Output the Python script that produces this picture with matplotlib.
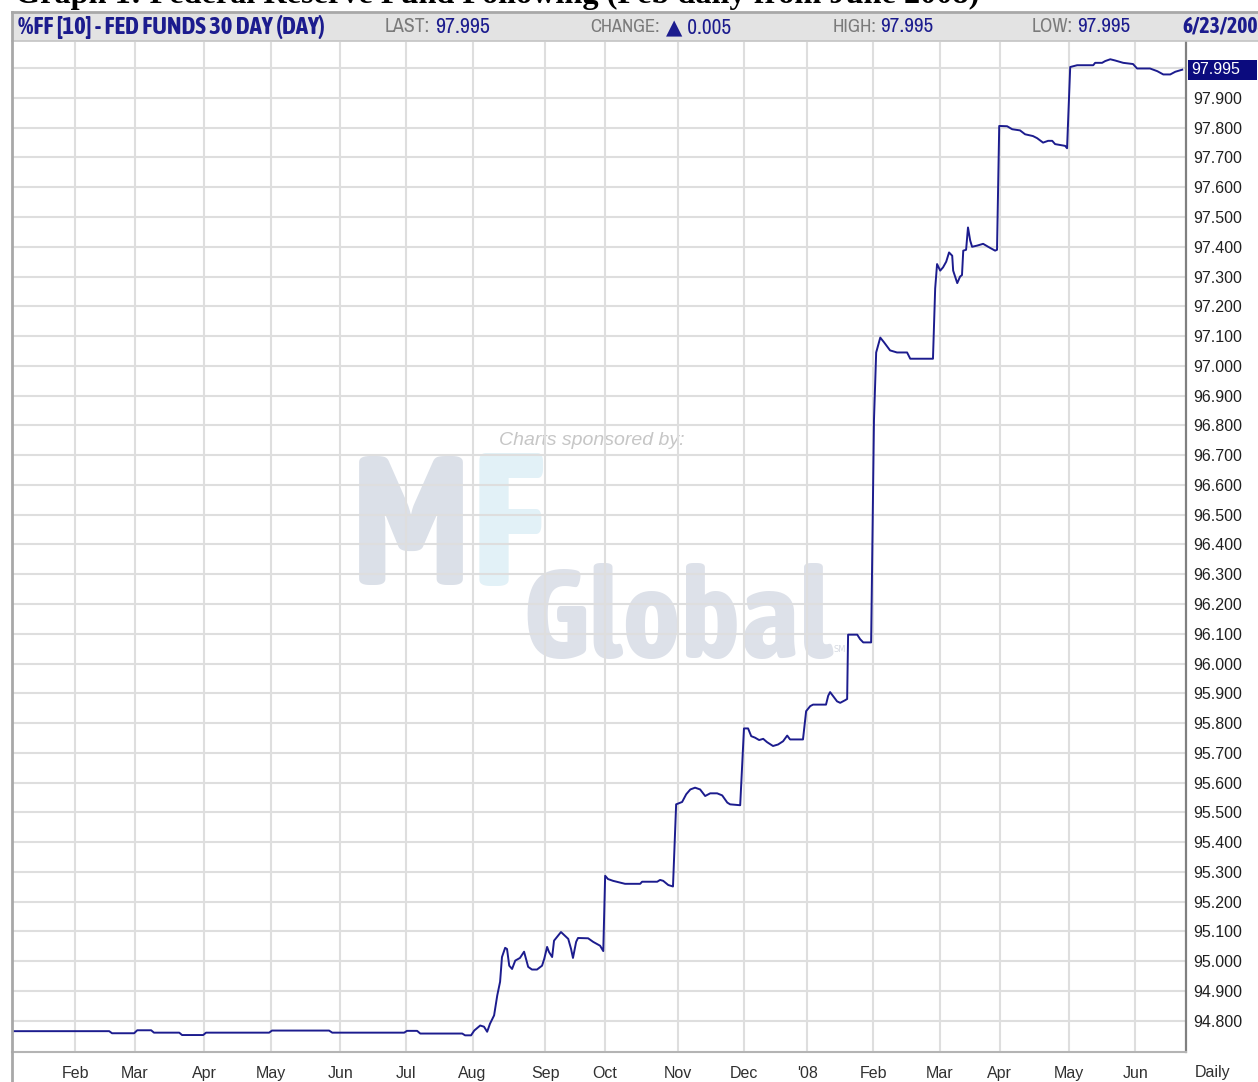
import matplotlib
matplotlib.use("Agg")
import matplotlib.pyplot as plt
from matplotlib import font_manager as fm
from matplotlib.patches import Rectangle
from matplotlib.lines import Line2D
from matplotlib.transforms import blended_transform_factory

W, H = 1258, 1082

session = [
    -20.0, 10.8, 11.7, 18.7, 19.7, 24.1, 25.0, 33.0, 33.9, 40.6,
    41.5, 61.5, 62.4, 80.5, 81.5, 104.3, 105.2, 108.4, 109.4, 122.7,
    123.6, 125.5, 126.5, 128.4, 129.6, 130.6, 131.5, 132.8, 133.8, 134.7,
    135.3, 136.3, 136.9, 137.6, 138.5, 139.5, 141.0, 142.3, 142.9, 143.6,
    144.8, 146.4, 148.0, 148.7, 149.6, 150.2, 151.2, 151.8, 153.1, 154.0,
    155.3, 156.3, 157.2, 157.8, 158.8, 159.4, 162.6, 164.2, 166.4, 167.4,
    168.0, 168.9, 170.5, 174.3, 179.1, 179.7, 184.5, 185.4, 186.4, 188.0,
    189.5, 190.5, 192.4, 193.7, 195.0, 196.5, 198.1, 199.7, 201.3, 203.5,
    205.1, 206.7, 207.6, 210.8, 212.0, 213.3, 214.3, 215.5, 216.8, 218.1,
    219.3, 221.2, 222.8, 224.4, 225.7, 226.6, 230.7, 231.7, 233.0, 233.9,
    238.0, 238.7, 239.3, 240.3, 241.5, 242.5, 244.1, 244.7, 245.0, 247.9,
    248.8, 249.8, 252.3, 253.2, 253.9, 255.2, 256.4, 258.3, 260.5, 263.7,
    264.7, 271.9, 272.6, 273.2, 274.2, 275.1, 276.1, 277.0, 278.0, 278.3,
    279.6, 280.5, 281.1, 281.5, 282.4, 283.0, 283.7, 284.3, 285.9, 287.8,
    289.4, 291.6, 292.2, 292.9, 295.4, 297.0, 299.5, 301.1, 303.6, 304.9,
    306.8, 308.4, 309.7, 310.6, 313.8, 314.4, 315.4, 317.6, 322.7, 323.3,
    325.5, 326.5, 328.1, 329.6, 332.2, 335.3, 336.6, 340.7, 343.0, 344.9,
    347.1, 348.7, 350.9,
]
price = [
    94.765, 94.765, 94.758, 94.758, 94.768, 94.768, 94.760, 94.760, 94.752, 94.752,
    94.760, 94.760, 94.767, 94.767, 94.760, 94.760, 94.766, 94.766, 94.757, 94.757,
    94.751, 94.751, 94.767, 94.784, 94.780, 94.763, 94.790, 94.818, 94.885, 94.931,
    95.014, 95.045, 95.041, 94.985, 94.974, 95.002, 95.011, 95.032, 95.008, 94.981,
    94.972, 94.972, 94.985, 95.008, 95.048, 95.031, 95.014, 95.069, 95.086, 95.098,
    95.085, 95.075, 95.041, 95.011, 95.065, 95.078, 95.077, 95.065, 95.052, 95.034,
    95.287, 95.276, 95.270, 95.260, 95.260, 95.267, 95.267, 95.273, 95.270, 95.256,
    95.251, 95.527, 95.535, 95.561, 95.577, 95.583, 95.577, 95.555, 95.564, 95.564,
    95.557, 95.533, 95.527, 95.524, 95.782, 95.782, 95.756, 95.751, 95.743, 95.747,
    95.736, 95.723, 95.728, 95.739, 95.758, 95.745, 95.745, 95.840, 95.857, 95.862,
    95.862, 95.892, 95.904, 95.890, 95.873, 95.868, 95.877, 95.881, 96.097, 96.097,
    96.082, 96.071, 96.071, 96.817, 97.045, 97.095, 97.079, 97.052, 97.045, 97.045,
    97.024, 97.024, 97.260, 97.342, 97.320, 97.331, 97.350, 97.381, 97.370, 97.320,
    97.278, 97.300, 97.305, 97.387, 97.390, 97.465, 97.421, 97.400, 97.404, 97.410,
    97.400, 97.387, 97.390, 97.806, 97.805, 97.795, 97.791, 97.778, 97.772, 97.765,
    97.750, 97.756, 97.756, 97.745, 97.739, 97.731, 98.004, 98.010, 98.010, 98.018,
    98.018, 98.024, 98.030, 98.026, 98.018, 98.014, 97.999, 97.999, 97.990, 97.979,
    97.979, 97.988, 97.995,
]

month_pos = [0, 19, 41, 62, 84, 105, 126, 149, 168, 191, 212, 232, 253, 274, 293, 315, 336]
month_lbl = ["Feb", "Mar", "Apr", "May", "Jun", "Jul", "Aug", "Sep", "Oct",
             "Nov", "Dec", "'08", "Feb", "Mar", "Apr", "May", "Jun"]
price_ticks = [94.8, 94.9, 95.0, 95.1, 95.2, 95.3, 95.4, 95.5, 95.6, 95.7, 95.8,
               95.9, 96.0, 96.1, 96.2, 96.3, 96.4, 96.5, 96.6, 96.7, 96.8, 96.9,
               97.0, 97.1, 97.2, 97.3, 97.4, 97.5, 97.6, 97.7, 97.8, 97.9, 98.0]
last_price = 97.995

NAVY = "#1c1c8e"
SANS = ["Liberation Sans", "DejaVu Sans"]


def _weight(f):
    w = f.weight
    return w if isinstance(w, int) else fm.weight_dict.get(str(w), 400)


# look for upright narrow sans faces: one with a regular cut, one with a bold cut
_upright = {}
for f in fm.fontManager.ttflist:
    if f.style != "normal" or "Mono" in f.name or "Serif" in f.name:
        continue
    named = "Narrow" in f.name or "Condensed" in f.name
    cond = "condensed" in str(f.stretch)
    if not (named or cond):
        continue
    key = (f.name, "normal" if named else f.stretch)
    _upright.setdefault(key, set()).add(_weight(f))

_reg = sorted(k for k, ws in _upright.items() if any(300 <= w <= 500 for w in ws))
_bold = sorted(k for k, ws in _upright.items() if any(w >= 600 for w in ws))
NARROW = {"family": SANS, "stretch": "normal"}
if _reg:
    NARROW = {"family": [_reg[0][0], "DejaVu Sans"], "stretch": _reg[0][1]}
NARROW_B = dict(NARROW)
if _bold:
    NARROW_B = {"family": [_bold[0][0], "DejaVu Sans"], "stretch": _bold[0][1]}
elif not _reg:
    NARROW_B = {"family": SANS, "stretch": "normal"}


def fx(px):
    return px / W


def fy(py):
    return 1 - py / H


fig = plt.figure(figsize=(W / 100, H / 100), dpi=100)
fig.patch.set_facecolor("white")
renderer = fig.canvas.get_renderer()


def fit(t, width_px):
    # scale a text so that it spans width_px on the canvas
    w = t.get_window_extent(renderer).width
    t.set_fontsize(t.get_fontsize() * width_px / w)
    return t


ax = fig.add_axes([fx(12), fy(1052), (1186 - 12) / W, (1052 - 42) / H])
ax.set_facecolor("white")
ax.set_axisbelow(True)

ax.plot(session, price, color=NAVY, lw=1.4, zorder=2)

ax.set_xlim(-20, 352.1)
ax.set_ylim(94.695, 98.088)

ax.set_xticks(month_pos)
ax.set_xticklabels(month_lbl, family=SANS, fontsize=11.5, color="#303030")
ax.tick_params(axis="x", length=0, pad=10)

ax.yaxis.tick_right()
ax.set_yticks(price_ticks)
ax.set_yticklabels(["%.3f" % v if v < 97.95 else "" for v in price_ticks],
                   family=SANS, fontsize=11.5, color="#202020")
ax.tick_params(axis="y", length=0, pad=5)

ax.grid(True, color="#dedede", lw=1.5)
ax.spines["top"].set_visible(False)
ax.spines["left"].set_visible(False)
ax.spines["right"].set_color("#808080")
ax.spines["right"].set_linewidth(1.6)
ax.spines["bottom"].set_color("#b4b4b4")
ax.spines["bottom"].set_linewidth(1.5)

# highlighted last value on the price scale
bt = blended_transform_factory(ax.transAxes, ax.transData)
ax.add_patch(Rectangle((1.0015, last_price - 0.034), 0.059, 0.068, transform=bt,
                       fc="#0b0b7e", ec="none", clip_on=False))
ax.text(1.0048, last_price, "97.995", transform=bt, color="white", va="center",
        ha="left", family=SANS, fontsize=11.5, clip_on=False)

# sponsor watermark (behind the grid)
ax.text(fx(592), fy(441), "Charts sponsored by:", transform=fig.transFigure,
        ha="center", va="center", style="italic", family=SANS, fontsize=14,
        color="#c6c6c6", zorder=0.1)
fit(ax.text(fx(350), fy(585), "M", transform=fig.transFigure, weight="bold",
            color="#dbe0e8", zorder=0.1, fontsize=100, **NARROW_B), 122)
fit(ax.text(fx(470), fy(585), "F", transform=fig.transFigure, weight="bold",
            color="#e2f1f7", zorder=0.1, fontsize=100, **NARROW_B), 76)
fit(ax.text(fx(522), fy(658), "Global", transform=fig.transFigure, weight="bold",
            color="#dde1e9", zorder=0.1, fontsize=100, **NARROW_B), 310)
ax.text(fx(833), fy(652), "SM", transform=fig.transFigure, fontsize=6,
        color="#d6dae2", zorder=0.1)

# header bar
fig.patches.append(Rectangle((fx(12), fy(41)), 1 - fx(12), 29 / H,
                             transform=fig.transFigure, fc="#e3e3e3", ec="none"))
fig.lines.append(Line2D([fx(12), 1], [fy(12), fy(12)], transform=fig.transFigure,
                        color="#a8a8a8", lw=2))
fig.lines.append(Line2D([fx(12), 1], [fy(41), fy(41)], transform=fig.transFigure,
                        color="#c4c4c4", lw=1.2))
fig.lines.append(Line2D([fx(12), fx(12)], [0, fy(12)], transform=fig.transFigure,
                        color="#a8a8a8", lw=2))

hy = fy(27)
fit(fig.text(fx(18), hy, "%FF [10] - FED FUNDS 30 DAY (DAY)", weight="bold",
             fontsize=14, color=NAVY, va="center", **NARROW_B), 308)
for lab, lx, lw_, val, vx, vw in [("LAST:", 385, 45, "97.995", 435, 55),
                                  ("CHANGE:", 590, 70, "\u25b2 0.005", 666, 65),
                                  ("HIGH:", 833, 44, "97.995", 880, 53),
                                  ("LOW:", 1032, 41, "97.995", 1077, 53)]:
    fit(fig.text(fx(lx), hy, lab, fontsize=11, color="#7a7a7a", va="center", **NARROW), lw_)
    fit(fig.text(fx(vx), hy, val, fontsize=11, color=NAVY, va="center", **NARROW), vw)
fit(fig.text(fx(1182), hy, "6/23/2008", weight="bold", fontsize=14, color=NAVY,
             va="center", **NARROW_B), 86)

fig.text(fx(1213), fy(1072), "Daily", family=SANS, fontsize=11.5, color="#303030",
         ha="center", va="center")

# caption of the source document, cut off by the crop
fit(fig.text(fx(15), fy(3), "Graph 1: Federal Reserve Fund Following (Feb daily from June 2008)",
             family=["Liberation Serif", "DejaVu Serif"], weight="bold", fontsize=20,
             color="black", va="baseline"), 965)

fig.savefig("out.png", dpi=100)
